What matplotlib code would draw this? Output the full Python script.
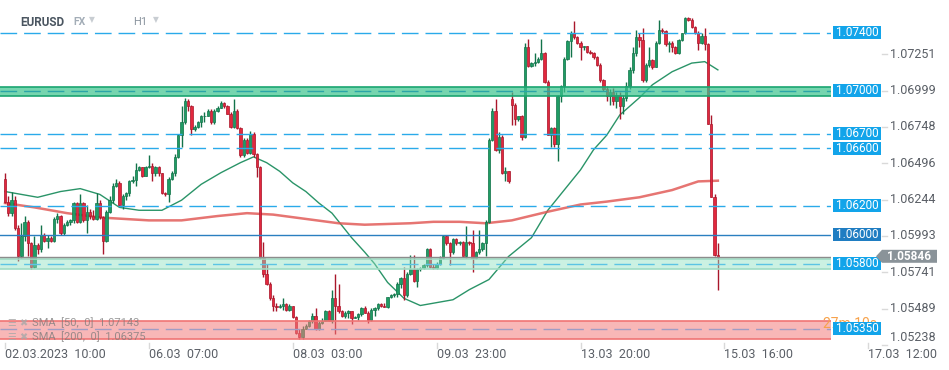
import matplotlib
matplotlib.use('Agg')
import matplotlib.pyplot as plt
import matplotlib.transforms as mtransforms
from matplotlib.patches import Rectangle, Polygon
import numpy as np

plt.rcParams['font.family'] = ['Roboto', 'DejaVu Sans']

# EURUSD H1 candles, one per hour starting 02.03.2023 10:00
opens = [
    1.0639, 1.0623, 1.0615, 1.0624, 1.0605, 1.0585, 1.0599, 1.0609, 1.0594, 1.0578,
    1.0593, 1.0590, 1.0600, 1.0596, 1.0598, 1.0596, 1.0611, 1.0613, 1.0601, 1.0607,
    1.0609, 1.0610, 1.0622, 1.0609, 1.0622, 1.0610, 1.0616, 1.0613, 1.0611, 1.0622,
    1.0612, 1.0596, 1.0616, 1.0624, 1.0634, 1.0636, 1.0621, 1.0627, 1.0629, 1.0637,
    1.0638, 1.0645, 1.0647, 1.0641, 1.0647, 1.0648, 1.0643, 1.0647, 1.0643, 1.0629,
    1.0628, 1.0639, 1.0643, 1.0654, 1.0669, 1.0678, 1.0693, 1.0689, 1.0673, 1.0675,
    1.0678, 1.0682, 1.0682, 1.0686, 1.0678, 1.0686, 1.0688, 1.0691, 1.0689, 1.0684,
    1.0675, 1.0686, 1.0674, 1.0655, 1.0666, 1.0657, 1.0670, 1.0656, 1.0647, 1.0584,
    1.0573, 1.0566, 1.0556, 1.0551, 1.0550, 1.0551, 1.0552, 1.0548, 1.0551, 1.0543,
    1.0532, 1.0529, 1.0535, 1.0537, 1.0540, 1.0544, 1.0535, 1.0539, 1.0540, 1.0547,
    1.0540, 1.0556, 1.0551, 1.0547, 1.0544, 1.0546, 1.0547, 1.0542, 1.0543, 1.0545,
    1.0549, 1.0546, 1.0541, 1.0548, 1.0549, 1.0552, 1.0551, 1.0550, 1.0557, 1.0558,
    1.0559, 1.0566, 1.0570, 1.0558, 1.0573, 1.0576, 1.0568, 1.0576, 1.0577, 1.0579,
    1.0590, 1.0578, 1.0577, 1.0580, 1.0584, 1.0599, 1.0594, 1.0588, 1.0597, 1.0594,
    1.0595, 1.0585, 1.0595, 1.0594, 1.0584, 1.0588, 1.0590, 1.0594, 1.0609, 1.0666,
    1.0686, 1.0659, 1.0668, 1.0643, 1.0644, 1.0694, 1.0690, 1.0680, 1.0682, 1.0668,
    1.0730, 1.0717, 1.0719, 1.0720, 1.0722, 1.0726, 1.0706, 1.0669, 1.0674, 1.0663,
    1.0696, 1.0703, 1.0722, 1.0734, 1.0740, 1.0737, 1.0733, 1.0730, 1.0731, 1.0727,
    1.0726, 1.0723, 1.0718, 1.0707, 1.0701, 1.0696, 1.0699, 1.0693, 1.0697, 1.0689,
    1.0695, 1.0703, 1.0714, 1.0726, 1.0737, 1.0735, 1.0707, 1.0718, 1.0721, 1.0716,
    1.0733, 1.0742, 1.0741, 1.0732, 1.0733, 1.0730, 1.0726, 1.0735, 1.0740, 1.0750,
    1.0749, 1.0744, 1.0740, 1.0733, 1.0738, 1.0732, 1.0677, 1.0626, 1.0586,
]
highs = [
    1.0643, 1.0627, 1.0630, 1.0627, 1.0607, 1.0608, 1.0613, 1.0610, 1.0595, 1.0599,
    1.0594, 1.0607, 1.0601, 1.0600, 1.0599, 1.0612, 1.0615, 1.0614, 1.0608, 1.0610,
    1.0611, 1.0623, 1.0623, 1.0628, 1.0623, 1.0621, 1.0618, 1.0617, 1.0629, 1.0624,
    1.0613, 1.0617, 1.0627, 1.0636, 1.0639, 1.0637, 1.0628, 1.0630, 1.0638, 1.0641,
    1.0650, 1.0648, 1.0647, 1.0648, 1.0655, 1.0650, 1.0648, 1.0648, 1.0643, 1.0630,
    1.0640, 1.0644, 1.0656, 1.0670, 1.0689, 1.0695, 1.0694, 1.0690, 1.0676, 1.0679,
    1.0683, 1.0685, 1.0687, 1.0687, 1.0687, 1.0689, 1.0693, 1.0692, 1.0690, 1.0685,
    1.0694, 1.0687, 1.0675, 1.0667, 1.0667, 1.0672, 1.0671, 1.0657, 1.0648, 1.0595,
    1.0580, 1.0567, 1.0558, 1.0553, 1.0552, 1.0556, 1.0553, 1.0552, 1.0551, 1.0544,
    1.0535, 1.0537, 1.0538, 1.0541, 1.0546, 1.0549, 1.0540, 1.0542, 1.0548, 1.0548,
    1.0562, 1.0573, 1.0566, 1.0548, 1.0547, 1.0548, 1.0547, 1.0544, 1.0546, 1.0550,
    1.0551, 1.0547, 1.0549, 1.0550, 1.0553, 1.0553, 1.0553, 1.0557, 1.0559, 1.0560,
    1.0567, 1.0571, 1.0578, 1.0574, 1.0586, 1.0586, 1.0577, 1.0578, 1.0580, 1.0591,
    1.0591, 1.0580, 1.0581, 1.0585, 1.0600, 1.0600, 1.0595, 1.0598, 1.0598, 1.0596,
    1.0596, 1.0606, 1.0596, 1.0603, 1.0589, 1.0603, 1.0595, 1.0610, 1.0667, 1.0688,
    1.0694, 1.0671, 1.0669, 1.0647, 1.0644, 1.0699, 1.0691, 1.0682, 1.0683, 1.0733,
    1.0736, 1.0720, 1.0726, 1.0723, 1.0736, 1.0727, 1.0707, 1.0675, 1.0675, 1.0697,
    1.0704, 1.0723, 1.0735, 1.0741, 1.0748, 1.0738, 1.0734, 1.0731, 1.0731, 1.0728,
    1.0727, 1.0724, 1.0719, 1.0708, 1.0703, 1.0701, 1.0702, 1.0699, 1.0699, 1.0697,
    1.0706, 1.0716, 1.0730, 1.0742, 1.0740, 1.0743, 1.0719, 1.0730, 1.0722, 1.0734,
    1.0749, 1.0743, 1.0742, 1.0734, 1.0734, 1.0731, 1.0736, 1.0740, 1.0751, 1.0751,
    1.0750, 1.0745, 1.0741, 1.0740, 1.0743, 1.0733, 1.0683, 1.0628, 1.0594,
]
lows = [
    1.0622, 1.0613, 1.0613, 1.0603, 1.0582, 1.0584, 1.0596, 1.0585, 1.0576, 1.0577,
    1.0587, 1.0588, 1.0595, 1.0591, 1.0595, 1.0595, 1.0608, 1.0600, 1.0600, 1.0606,
    1.0607, 1.0608, 1.0608, 1.0608, 1.0609, 1.0601, 1.0611, 1.0610, 1.0610, 1.0611,
    1.0587, 1.0595, 1.0615, 1.0622, 1.0633, 1.0620, 1.0618, 1.0624, 1.0627, 1.0636,
    1.0634, 1.0644, 1.0640, 1.0641, 1.0646, 1.0637, 1.0641, 1.0641, 1.0628, 1.0627,
    1.0623, 1.0638, 1.0641, 1.0653, 1.0661, 1.0677, 1.0686, 1.0669, 1.0672, 1.0674,
    1.0675, 1.0678, 1.0682, 1.0677, 1.0677, 1.0685, 1.0688, 1.0688, 1.0684, 1.0674,
    1.0674, 1.0673, 1.0654, 1.0654, 1.0656, 1.0656, 1.0654, 1.0640, 1.0583, 1.0571,
    1.0565, 1.0555, 1.0547, 1.0547, 1.0549, 1.0548, 1.0547, 1.0547, 1.0542, 1.0531,
    1.0528, 1.0528, 1.0535, 1.0536, 1.0539, 1.0534, 1.0534, 1.0538, 1.0540, 1.0540,
    1.0539, 1.0531, 1.0546, 1.0543, 1.0542, 1.0542, 1.0538, 1.0542, 1.0541, 1.0544,
    1.0546, 1.0539, 1.0540, 1.0544, 1.0548, 1.0550, 1.0550, 1.0549, 1.0556, 1.0557,
    1.0557, 1.0563, 1.0555, 1.0557, 1.0572, 1.0567, 1.0564, 1.0575, 1.0576, 1.0578,
    1.0577, 1.0576, 1.0576, 1.0579, 1.0583, 1.0593, 1.0579, 1.0587, 1.0593, 1.0593,
    1.0585, 1.0584, 1.0593, 1.0574, 1.0583, 1.0587, 1.0589, 1.0585, 1.0608, 1.0665,
    1.0658, 1.0657, 1.0642, 1.0637, 1.0636, 1.0676, 1.0676, 1.0679, 1.0666, 1.0667,
    1.0716, 1.0716, 1.0717, 1.0719, 1.0721, 1.0705, 1.0669, 1.0661, 1.0661, 1.0651,
    1.0692, 1.0699, 1.0721, 1.0723, 1.0736, 1.0732, 1.0721, 1.0728, 1.0726, 1.0725,
    1.0722, 1.0717, 1.0706, 1.0700, 1.0693, 1.0690, 1.0690, 1.0688, 1.0680, 1.0684,
    1.0693, 1.0701, 1.0712, 1.0724, 1.0730, 1.0706, 1.0706, 1.0716, 1.0715, 1.0716,
    1.0732, 1.0740, 1.0731, 1.0727, 1.0727, 1.0725, 1.0725, 1.0734, 1.0739, 1.0748,
    1.0743, 1.0739, 1.0728, 1.0732, 1.0728, 1.0677, 1.0626, 1.0585, 1.0562,
]
closes = [
    1.0623, 1.0615, 1.0624, 1.0605, 1.0585, 1.0599, 1.0609, 1.0594, 1.0578, 1.0593,
    1.0590, 1.0600, 1.0596, 1.0598, 1.0596, 1.0611, 1.0613, 1.0601, 1.0607, 1.0609,
    1.0610, 1.0622, 1.0609, 1.0622, 1.0610, 1.0616, 1.0613, 1.0611, 1.0622, 1.0612,
    1.0596, 1.0616, 1.0624, 1.0634, 1.0636, 1.0621, 1.0627, 1.0629, 1.0637, 1.0638,
    1.0645, 1.0647, 1.0641, 1.0647, 1.0648, 1.0643, 1.0647, 1.0643, 1.0629, 1.0628,
    1.0639, 1.0643, 1.0654, 1.0669, 1.0678, 1.0693, 1.0689, 1.0673, 1.0675, 1.0678,
    1.0682, 1.0682, 1.0686, 1.0678, 1.0686, 1.0688, 1.0691, 1.0689, 1.0684, 1.0675,
    1.0686, 1.0674, 1.0655, 1.0666, 1.0657, 1.0670, 1.0656, 1.0647, 1.0584, 1.0573,
    1.0566, 1.0556, 1.0551, 1.0550, 1.0551, 1.0552, 1.0548, 1.0551, 1.0543, 1.0532,
    1.0529, 1.0535, 1.0537, 1.0540, 1.0544, 1.0535, 1.0539, 1.0540, 1.0547, 1.0540,
    1.0556, 1.0551, 1.0547, 1.0544, 1.0546, 1.0547, 1.0542, 1.0543, 1.0545, 1.0549,
    1.0546, 1.0541, 1.0548, 1.0549, 1.0552, 1.0551, 1.0550, 1.0557, 1.0558, 1.0559,
    1.0566, 1.0570, 1.0558, 1.0573, 1.0576, 1.0568, 1.0576, 1.0577, 1.0579, 1.0590,
    1.0578, 1.0577, 1.0580, 1.0584, 1.0599, 1.0594, 1.0588, 1.0597, 1.0594, 1.0595,
    1.0585, 1.0595, 1.0594, 1.0584, 1.0588, 1.0590, 1.0594, 1.0609, 1.0666, 1.0686,
    1.0659, 1.0668, 1.0643, 1.0644, 1.0637, 1.0690, 1.0680, 1.0682, 1.0668, 1.0730,
    1.0717, 1.0719, 1.0720, 1.0722, 1.0726, 1.0706, 1.0669, 1.0674, 1.0663, 1.0696,
    1.0703, 1.0722, 1.0734, 1.0740, 1.0737, 1.0733, 1.0730, 1.0731, 1.0727, 1.0726,
    1.0723, 1.0718, 1.0707, 1.0701, 1.0696, 1.0699, 1.0693, 1.0697, 1.0689, 1.0695,
    1.0703, 1.0714, 1.0726, 1.0737, 1.0735, 1.0707, 1.0718, 1.0721, 1.0716, 1.0733,
    1.0742, 1.0741, 1.0732, 1.0733, 1.0730, 1.0726, 1.0735, 1.0740, 1.0750, 1.0749,
    1.0744, 1.0740, 1.0733, 1.0738, 1.0732, 1.0677, 1.0626, 1.0586, 1.05846,
]

# moving averages (candle index, value)
sma50_idx = [0, 10, 17, 23, 29, 35, 41, 48, 54, 60, 66, 72, 76, 80, 84, 88, 92, 96, 100,
             106, 110, 113, 117, 122, 127, 132, 137, 142, 148, 154, 161, 166, 171, 176,
             180, 184, 188, 194, 198, 204, 210, 214, 218]
sma50_val = [1.0630, 1.0626, 1.0630, 1.0632, 1.0628, 1.0619, 1.0617, 1.0617, 1.0624, 1.0635,
             1.0643, 1.0650, 1.0654, 1.0650, 1.0644, 1.0636, 1.0630, 1.0622, 1.0615,
             1.0598, 1.0588, 1.0580, 1.0567, 1.0556, 1.0551, 1.0553, 1.0555, 1.0562, 1.0569,
             1.0585, 1.0598, 1.0617, 1.0631, 1.0645, 1.0659, 1.0669, 1.0683, 1.0695, 1.0704,
             1.0713, 1.0719, 1.0720, 1.07143]
sma200_idx = [0, 9, 19, 29, 44, 54, 65, 74, 82, 92, 102, 110, 124, 131, 139, 147, 155,
              166, 176, 184, 194, 204, 212, 218]
sma200_val = [1.0622, 1.0619, 1.0615, 1.0612, 1.0610, 1.0610, 1.0613, 1.0615, 1.0614, 1.0611,
              1.0608, 1.0607, 1.0608, 1.0609, 1.0609, 1.0608, 1.0610, 1.0616, 1.0621, 1.0623,
              1.0626, 1.0631, 1.0637, 1.06375]

# horizontal levels and zones
dashed_levels = [1.0740, 1.0670, 1.0660, 1.0620]
solid_level = 1.0600
last_price = 1.05846
zones = [  # (low, high, level, fill, edge, dash colour, alpha)
    (1.06960, 1.07025, 1.0700, '#3cc48e', '#1aa571', '#2aa5a8', 0.7),
    (1.05763, 1.05832, 1.0580, '#8de0c0', '#9fdcc4', '#5cc4e4', 0.45),
    (1.05278, 1.05403, 1.0535, '#f47c7c', '#f07474', '#9f9cc4', 0.55),
]
box_levels = [1.0740, 1.0700, 1.0670, 1.0660, 1.0620, 1.0600, 1.0580, 1.0535]
ytick_vals = [1.07251, 1.06999, 1.06748, 1.06496, 1.06244, 1.05993, 1.05741, 1.05489, 1.05238]
xtick_pos = [0, 44, 88, 132, 176, 220, 264]
xtick_labels = ['02.03.2023  10:00', '06.03  07:00', '08.03  03:00', '09.03  23:00',
                '13.03  20:00', '15.03  16:00', '17.03  12:00']

W, H = 949, 370
fig = plt.figure(figsize=(W / 100, H / 100), dpi=100)
ax = fig.add_axes([0, 27 / H, 831 / W, 343 / H])
y_lo, y_hi = 1.052502, 1.076272
ax.set_xlim(-1.53, 252.6)
ax.set_ylim(y_lo, y_hi)
ax.axis('off')

o = np.array(opens)
h = np.array(highs)
l = np.array(lows)
c = np.array(closes)
x = np.arange(len(c))
up = c >= o
face = np.where(up, '#1f9c64', '#e2283e')
edge = np.where(up, '#12734a', '#a9172b')

# moving averages below the candles
ax.plot(sma50_idx, sma50_val, color='#2a9468', lw=1.0, zorder=2)
ax.plot(sma200_idx, sma200_val, color='#e0524f', lw=1.8, alpha=0.8, zorder=2)

ax.vlines(x, l, h, colors=edge, lw=1.0, zorder=3)
ax.bar(x, np.maximum(np.abs(c - o), 0.00005), bottom=np.minimum(o, c), width=0.72,
       color=face, edgecolor=edge, linewidth=0.5, zorder=4)

dash = (12, 5)
for lo, hi, lv, fc, ec, dc, al in zones:
    ax.axhspan(lo, hi, facecolor=fc, alpha=al, edgecolor='none', zorder=5)
    ax.axhline(lo, color=ec, lw=1.2, zorder=5)
    ax.axhline(hi, color=ec, lw=1.2, zorder=5)
    ax.axhline(lv, color=dc, lw=1.0, dashes=dash, zorder=6)

for lv in dashed_levels:
    ax.axhline(lv, color='#2aaaea', lw=1.0, dashes=dash, zorder=6)
ax.axhline(solid_level, color='#2a7fc0', lw=1.0, zorder=6)
ax.axhline(last_price, color='#8c8c8c', lw=1.0, zorder=6)

trans = mtransforms.blended_transform_factory(fig.transFigure, ax.transData)
trans_x = mtransforms.blended_transform_factory(ax.transData, fig.transFigure)
half = 0.00045

# countdown text partly hidden behind the 1.05350 box
ax.text(823 / W, 1.05382, '27m 10s', transform=trans, color='#f7a24b', fontsize=10,
        va='center', ha='left', zorder=9, clip_on=False)

for lv in box_levels:
    col = '#1f7dc2' if lv == solid_level else '#12a4ea'
    ax.add_patch(Rectangle((833 / W, lv - half), 48 / W, 2 * half, transform=trans,
                           facecolor=col, edgecolor='none', clip_on=False, zorder=10))
    ax.text(857 / W, lv, f'{lv:.5f}', transform=trans, ha='center', va='center',
            color='white', fontsize=8.5, zorder=11, clip_on=False)

# y tick labels on the right
for v in ytick_vals:
    ty = max(v, y_lo + 0.00035)
    ax.plot([882 / W, 887 / W], [v, v], transform=trans, color='#d9d9d9', lw=1, clip_on=False)
    ax.text(890 / W, ty, f'{v:.5f}', transform=trans, ha='left', va='center',
            color='#5a5f66', fontsize=9, clip_on=False)

# current price marker
pp = last_price + 0.00005
ax.add_patch(Polygon([(876 / W, pp), (882 / W, pp + half), (937 / W, pp + half),
                      (937 / W, pp - half), (882 / W, pp - half)], closed=True,
                     transform=trans, facecolor='#8a9399', edgecolor='none',
                     clip_on=False, zorder=12))
ax.text(909 / W, pp, f'{last_price:.5f}', transform=trans, ha='center', va='center',
        color='white', fontsize=8.5, fontweight='bold', zorder=13, clip_on=False)

# x tick labels
for pos, lab in zip(xtick_pos, xtick_labels):
    ax.plot([pos, pos], [1 - 343 / H, 1 - 348 / H], transform=trans_x, color='#d9d9d9',
            lw=1, clip_on=False)
    ax.text(pos, 1 - 354 / H, lab, transform=trans_x, ha='left', va='center',
            color='#5a5f66', fontsize=9, clip_on=False)

# header
fig.text(20 / W, 1 - 22 / H, 'EURUSD', fontsize=8.5, fontweight='bold', color='#4a5560', va='center')
fig.text(73 / W, 1 - 22 / H, 'FX', fontsize=7.5, fontweight='bold', color='#a3adb7', va='center')
fig.text(89 / W, 1 - 20 / H, '▼', fontsize=5.5, color='#c8cdd2', va='center', family='DejaVu Sans')
fig.text(133 / W, 1 - 22 / H, 'H1', fontsize=8, color='#8a949e', va='center')
fig.text(153 / W, 1 - 20 / H, '▼', fontsize=5.5, color='#c8cdd2', va='center', family='DejaVu Sans')

# indicator legend
for yy, txt in [(323, f'SMA  [50,  0]  {sma50_val[-1]:.5f}'), (337, f'SMA  [200,  0]  {sma200_val[-1]:.5f}')]:
    fig.text(7 / W, 1 - yy / H, '☰', fontsize=7, color='#a8a8a8', va='center', family='DejaVu Sans', alpha=0.8)
    fig.text(19 / W, 1 - yy / H, '✖', fontsize=7, color='#a8a8a8', va='center', family='DejaVu Sans', alpha=0.8)
    fig.text(32 / W, 1 - yy / H, txt, fontsize=8, color='#7a7a7a', va='center', alpha=0.75)

fig.savefig('out.png', dpi=100)
